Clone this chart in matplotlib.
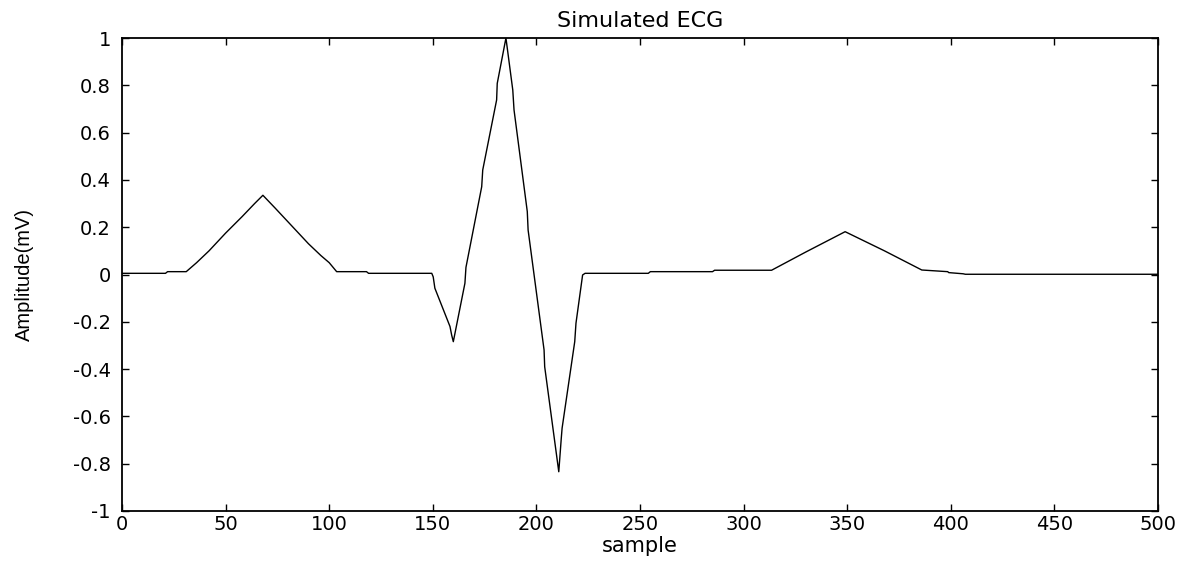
import matplotlib
matplotlib.use("Agg")
import matplotlib.pyplot as plt

# Breakpoints of the simulated ECG trace (sample index, amplitude in mV)
sample = [0, 21, 22, 31, 36, 42, 50, 58, 64, 68, 74, 82, 90, 96, 100, 103.6, 118, 119,
          149.5, 150.2, 151, 158.3, 159.1, 159.9, 165.5, 166, 173.6, 174.1, 180.8, 181.1,
          185.3, 188.6, 189.2, 195.6, 196, 203.7, 204, 210.8, 212, 212.4, 218.5, 219.1,
          222.3, 223.5, 254, 255, 285, 286, 313.5, 330, 349, 368, 386, 398.5, 399,
          406, 407, 500]
amplitude = [0.005, 0.005, 0.012, 0.012, 0.05, 0.10, 0.175, 0.245, 0.30, 0.335, 0.28,
             0.205, 0.13, 0.08, 0.05, 0.012, 0.012, 0.005,
             0.005, -0.01, -0.058, -0.22, -0.256, -0.284, -0.037, 0.03, 0.371, 0.442,
             0.738, 0.808, 1.0, 0.78, 0.696, 0.266, 0.188, -0.319, -0.39, -0.834,
             -0.693, -0.65, -0.284, -0.206, -0.002, 0.005, 0.005, 0.012, 0.012, 0.018,
             0.018, 0.095, 0.181, 0.10, 0.019, 0.012, 0.008, 0.003, 0.001, 0.001]

x_ticks = [0, 50, 100, 150, 200, 250, 300, 350, 400, 450, 500]
x_tick_labels = ["0", "50", "100", "150", "200", "250", "300", "350", "400", "450", "500"]
y_ticks = [-1, -0.8, -0.6, -0.4, -0.2, 0, 0.2, 0.4, 0.6, 0.8, 1]
y_tick_labels = ["-1", "-0.8", "-0.6", "-0.4", "-0.2", "0", "0.2", "0.4", "0.6", "0.8", "1"]

plt.rcParams['font.family'] = ['DejaVu Sans']

fig = plt.figure(figsize=(12.02, 5.61), dpi=100)
ax = fig.add_axes([122 / 1202, 50 / 561, (1158 - 122) / 1202, (511 - 38) / 561])

ax.plot(sample, amplitude, color="black", linewidth=1.0)

ax.set_xlim(0, 500)
ax.set_ylim(-1, 1)
ax.set_xticks(x_ticks)
ax.set_xticklabels(x_tick_labels)
ax.set_yticks(y_ticks)
ax.set_yticklabels(y_tick_labels)
ax.tick_params(direction="in", length=5, width=1, top=True, right=True,
               labelsize=14, colors="black")
ax.tick_params(axis="y", pad=8)
ax.tick_params(axis="x", pad=3)
for s in ax.spines.values():
    s.set_linewidth(1.3)
    s.set_color("black")

ax.set_title("Simulated ECG", fontsize=16, pad=8)
ax.set_xlabel("sample", fontsize=15, labelpad=1)
ax.set_ylabel("Amplitude(mV)", fontsize=14.5,
              family=["Liberation Sans Narrow", "Liberation Sans"])
ax.yaxis.set_label_coords(-0.085, 0.5)

fig.savefig("out.png", dpi=100, facecolor="white")
